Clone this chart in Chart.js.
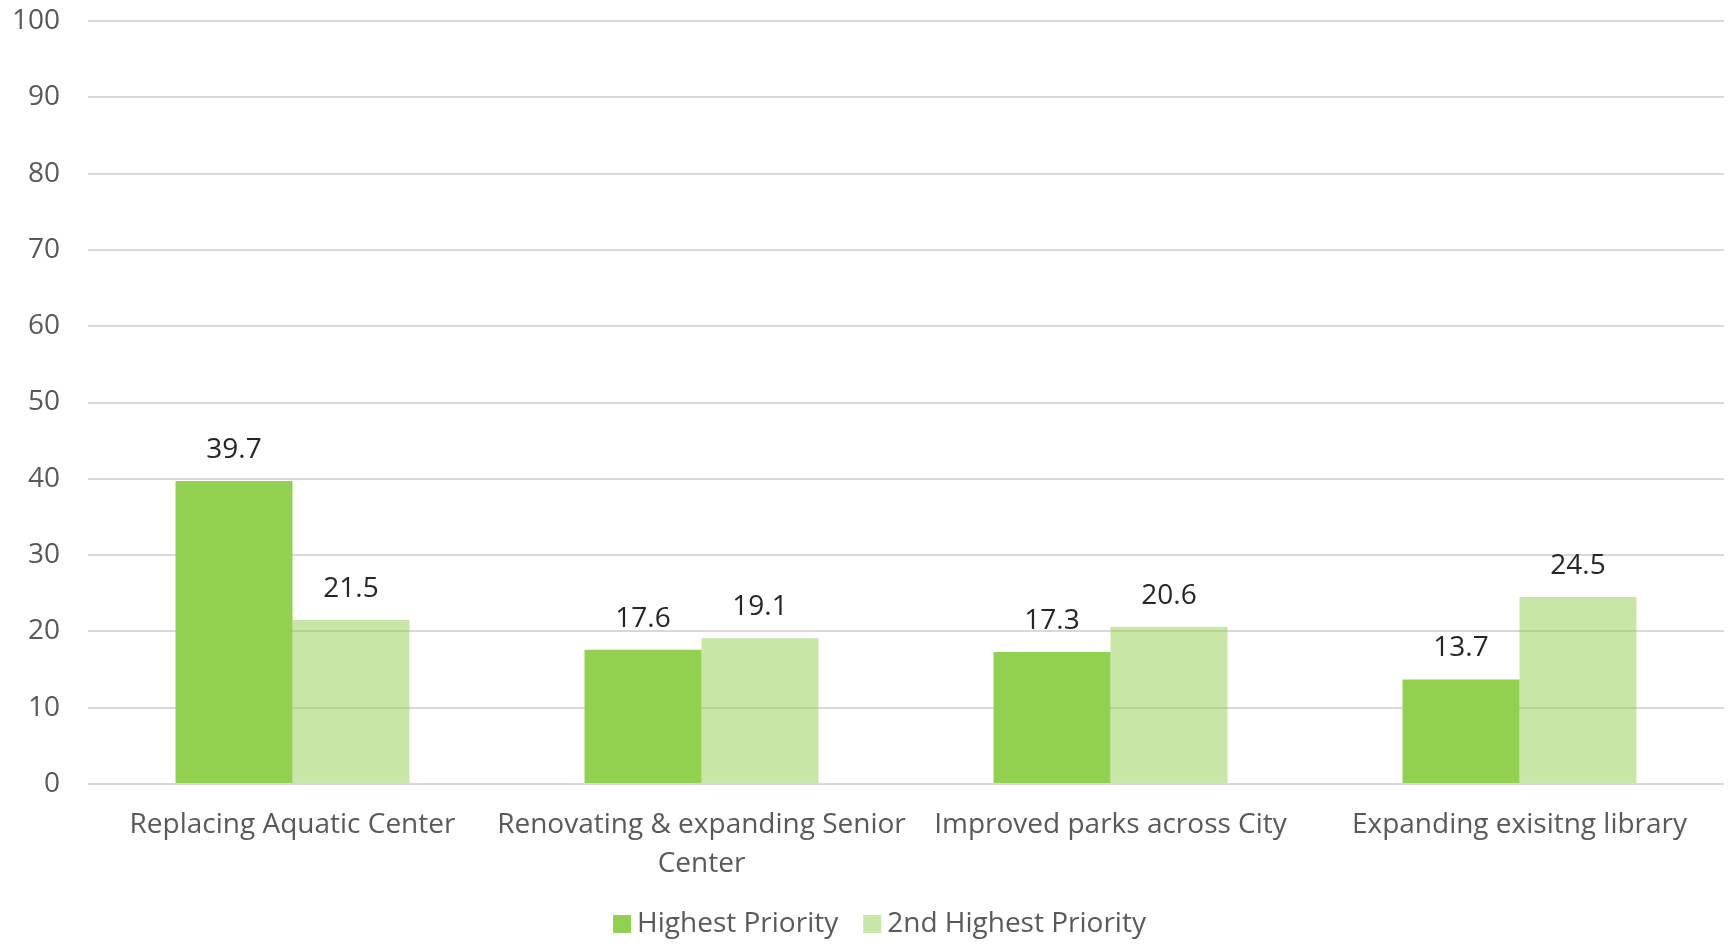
<!DOCTYPE html>
<html>
<head>
<meta charset="utf-8">
<script src="https://cdn.jsdelivr.net/npm/chart.js@4"></script>
<style>
html,body{margin:0;padding:0;background:#fff;}
#wrap{width:1729px;height:944px;position:relative;}
</style>
</head>
<body>
<div id="wrap"><canvas id="c" width="1729" height="944"></canvas></div>
<script>
const categories = [
  "Replacing Aquatic Center",
  ["Renovating & expanding Senior", "Center"],
  "Improved parks across City",
  "Expanding exisitng library"
];
const highestPriority = [39.7, 17.6, 17.3, 13.7];
const secondHighestPriority = [21.5, 19.1, 20.6, 24.5];
const yTicks = [0, 10, 20, 30, 40, 50, 60, 70, 80, 90, 100];

const FONT = "'Open Sans', sans-serif";
const FS = 28;

const valueLabels = {
  id: 'valueLabels',
  afterDatasetsDraw(chart) {
    const ctx = chart.ctx;
    ctx.save();
    ctx.font = FS + "px " + FONT;
    ctx.fillStyle = '#262626';
    ctx.textAlign = 'center';
    ctx.textBaseline = 'middle';
    chart.data.datasets.forEach((ds, i) => {
      chart.getDatasetMeta(i).data.forEach((bar, j) => {
        ctx.fillText(ds.data[j].toFixed(1), bar.x, bar.y - 31);
      });
    });
    ctx.restore();
  }
};

const customLegend = {
  id: 'customLegend',
  afterDraw(chart) {
    const ctx = chart.ctx;
    ctx.save();
    ctx.font = FS + "px " + FONT;
    ctx.textBaseline = 'middle';
    ctx.textAlign = 'left';
    const box = 18, gapText = 6, gapItem = 25, y = 924, shift = 15;
    const items = chart.data.datasets.map(ds => ({ text: ds.label, color: ds.backgroundColor, w: box + gapText + ctx.measureText(ds.label).width }));
    const total = items.reduce((s, it) => s + it.w, 0) + gapItem * (items.length - 1);
    let x = (chart.width - total) / 2 + shift;
    items.forEach(it => {
      ctx.fillStyle = it.color;
      ctx.fillRect(x, y - box / 2, box, box);
      ctx.fillStyle = '#595959';
      ctx.fillText(it.text, x + box + gapText, y);
      x += it.w + gapItem;
    });
    ctx.restore();
  }
};

new Chart(document.getElementById('c'), {
  type: 'bar',
  data: {
    labels: categories,
    datasets: [
      { label: 'Highest Priority', data: highestPriority, backgroundColor: '#92D050', categoryPercentage: 0.572, barPercentage: 1.0 },
      { label: '2nd Highest Priority', data: secondHighestPriority, backgroundColor: 'rgba(146,208,80,0.5)', categoryPercentage: 0.572, barPercentage: 1.0 }
    ]
  },
  options: {
    responsive: false,
    animation: false,
    layout: { padding: { top: 21, right: 5, left: 0, bottom: 0 } },
    plugins: {
      legend: { display: false },
      tooltip: { enabled: false }
    },
    scales: {
      x: {
        grid: { display: false, drawTicks: false },
        border: { display: false },
        afterFit(scale) { scale.height = 160; },
        ticks: { color: '#595959', font: { family: FONT, size: FS, lineHeight: 1.4 }, padding: 21, maxRotation: 0, autoSkip: false }
      },
      y: {
        min: 0, max: 100,
        afterBuildTicks(scale) { scale.ticks = yTicks.map(v => ({ value: v })); },
        afterFit(scale) { scale.width = 88; scale.paddingTop = 0; scale.paddingBottom = 0; },
        grid: { color: '#d9d9d9', lineWidth: 2, drawTicks: false },
        border: { display: false },
        ticks: { color: '#595959', font: { family: FONT, size: FS }, padding: 28 }
      }
    }
  },
  plugins: [valueLabels, customLegend]
});
</script>
</body>
</html>
